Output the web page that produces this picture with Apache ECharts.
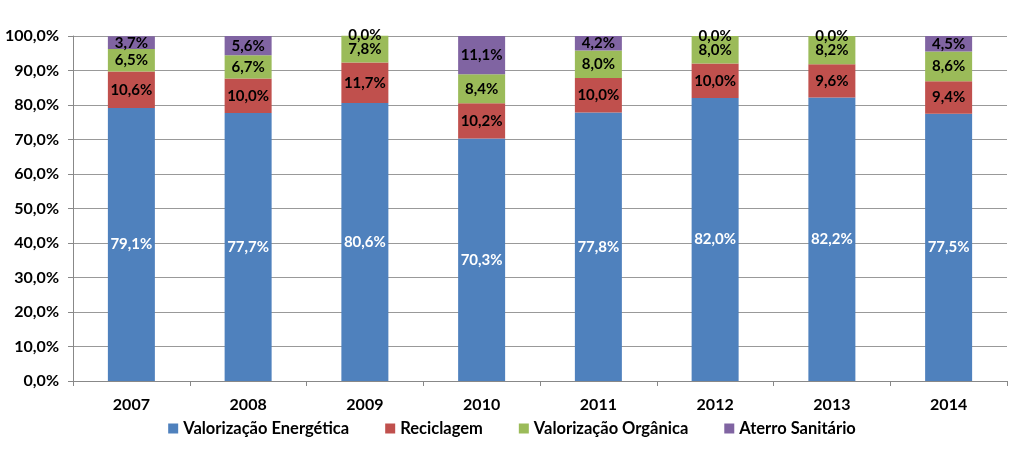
<!DOCTYPE html>
<html><head><meta charset="utf-8">
<script src="https://cdn.jsdelivr.net/npm/echarts@6/dist/echarts.min.js"></script>
<style>html,body{margin:0;padding:0;background:#fff}#c{width:1024px;height:459px}</style>
</head><body><div id="c"></div>
<script>
const categories = ['2007','2008','2009','2010','2011','2012','2013','2014'];
const energetica = [79.1, 77.7, 80.6, 70.3, 77.8, 82.0, 82.2, 77.5];
const reciclagem = [10.6, 10.0, 11.7, 10.2, 10.0, 10.0, 9.6, 9.4];
const organica = [6.5, 6.7, 7.8, 8.4, 8.0, 8.0, 8.2, 8.6];
const aterro = [3.7, 5.6, 0.0, 11.1, 4.2, 0.0, 0.0, 4.5];
const yTicks = [0,10,20,30,40,50,60,70,80,90,100];

const FONT = 'Lato';
const fmt = v => v.toFixed(1).replace('.', ',') + '%';
function mk(name, data, color, labelColor) {
  return {
    name, type: 'bar', stack: 'a', data, barWidth: 47, clip: false,
    itemStyle: { color },
    label: { show: true, position: 'inside', color: labelColor, fontFamily: FONT, fontWeight: 'bold', fontSize: 15,
      formatter: p => fmt(p.value) },
    emphasis: { disabled: true }
  };
}
const chart = echarts.init(document.getElementById('c'));
chart.setOption({
  animation: false,
  grid: { left: 73, right: 17, top: 36, bottom: 78 },
  legend: {
    bottom: 17, left: 'center', itemWidth: 10, itemHeight: 10, itemGap: 36,
    icon: 'rect',
    textStyle: { fontFamily: FONT, fontWeight: 'bold', fontSize: 16.5, color: '#000' },
    data: ['Valorização Energética','Reciclagem','Valorização Orgânica','Aterro Sanitário']
  },
  xAxis: {
    type: 'category', data: categories,
    axisLine: { lineStyle: { color: '#888' } },
    axisTick: { show: true, alignWithLabel: false, length: 5, lineStyle: { color: '#888' } },
    axisLabel: { fontFamily: FONT, fontWeight: 'bold', fontSize: 16, color: '#000', margin: 16 }
  },
  yAxis: {
    type: 'value', min: 0, max: 100, interval: 10,
    axisLine: { show: true, lineStyle: { color: '#888' } },
    axisTick: { show: true, length: 5, inside: false, lineStyle: { color: '#888' } },
    splitLine: { lineStyle: { color: '#999' } },
    axisLabel: { fontFamily: FONT, fontWeight: 'bold', fontSize: 16, color: '#000', margin: 14,
      formatter: v => yTicks.includes(v) ? fmt(v) : '' }
  },
  series: [
    mk('Valorização Energética', energetica, '#4F81BD', '#fff'),
    mk('Reciclagem', reciclagem, '#C0504D', '#000'),
    mk('Valorização Orgânica', organica, '#9BBB59', '#000'),
    mk('Aterro Sanitário', aterro, '#8064A2', '#000')
  ]
});
</script></body></html>
